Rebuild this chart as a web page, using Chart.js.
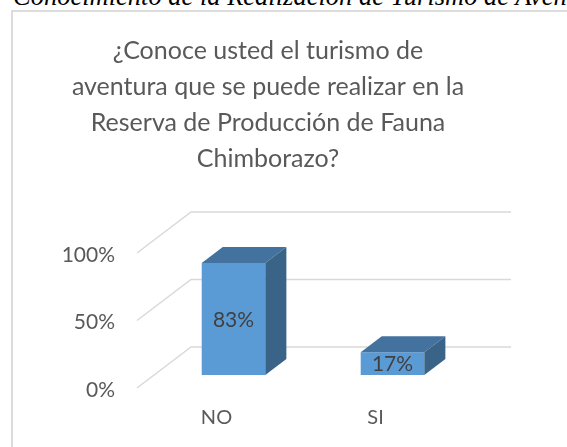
<!DOCTYPE html>
<html>
<head>
<meta charset="utf-8">
<script src="https://cdn.jsdelivr.net/npm/chart.js@4/dist/chart.umd.min.js"></script>
<style>
  html, body { margin:0; padding:0; background:#fff; overflow:hidden; }
  #wrap { position:relative; width:567px; height:447px; overflow:hidden; }
  #caption { position:absolute; left:13px; top:-19px; white-space:nowrap; font-family:"Liberation Serif","Times New Roman",serif; font-style:italic; font-size:26.5px; line-height:30px; color:#000; }
  #frame { position:absolute; left:11px; top:10px; width:700px; height:600px; border-left:2px solid #DCDCDC; border-top:2px solid #DCDCDC; }
  canvas { position:absolute; left:0; top:0; }
</style>
</head>
<body>
<div id="wrap">
  <div id="caption">Conocimiento de la Realización de Turismo de Aventura</div>
  <div id="frame"></div>
  <canvas id="c" width="567" height="447"></canvas>
</div>
<script>
const captionText = 'Conocimiento de la Realización de Turismo de Aventura';
const titleLines = ['¿Conoce usted el turismo de', 'aventura que se puede realizar en la', 'Reserva de Producción de Fauna', 'Chimborazo?'];
const categories = ['NO', 'SI'];
const values = [83, 17];
const tickValues = [0, 50, 100];

// 3D geometry constants (style only)
const DX = 54, DY = -41;   // full depth offset of floor / back wall
const F = 0.315;            // depth position of bar front face
const D = 0.39;             // bar depth fraction

const threeD = {
  id: 'threeD',
  beforeDatasetsDraw(chart) {
    const { ctx, chartArea, scales } = chart;
    const y = scales.y;
    ctx.save();
    ctx.strokeStyle = '#D9D9D9';
    ctx.lineWidth = 1.5;
    y.ticks.forEach(t => {
      const py = y.getPixelForValue(t.value);
      ctx.beginPath();
      ctx.moveTo(chartArea.left, py);
      ctx.lineTo(chartArea.left + DX, py + DY);
      ctx.lineTo(chartArea.right + DX + 2, py + DY);
      ctx.stroke();
    });
    ctx.restore();
    ctx.save();
    ctx.translate(DX * F, DY * F);
  },
  afterDatasetsDraw(chart) {
    const { ctx } = chart;
    const meta = chart.getDatasetMeta(0);
    const bx = DX * D, by = DY * D;
    meta.data.forEach((bar, i) => {
      const p = bar.getProps(['x', 'y', 'base', 'width'], true);
      const l = p.x - p.width / 2, r = p.x + p.width / 2;
      ctx.fillStyle = '#44729F';
      ctx.beginPath();
      ctx.moveTo(l, p.y);
      ctx.lineTo(l + bx, p.y + by);
      ctx.lineTo(r + bx, p.y + by);
      ctx.lineTo(r, p.y);
      ctx.closePath();
      ctx.fill();
      ctx.fillStyle = '#3A6388';
      ctx.beginPath();
      ctx.moveTo(r, p.y);
      ctx.lineTo(r + bx, p.y + by);
      ctx.lineTo(r + bx, p.base + by);
      ctx.lineTo(r, p.base);
      ctx.closePath();
      ctx.fill();
      ctx.fillStyle = '#404040';
      ctx.font = '21px Lato';
      ctx.textAlign = 'center';
      ctx.textBaseline = 'middle';
      ctx.fillText(values[i] + '%', p.x, (p.y + p.base) / 2 + 1);
    });
    ctx.restore();
  }
};

new Chart(document.getElementById('c'), {
  type: 'bar',
  data: {
    labels: categories,
    datasets: [{
      data: values,
      backgroundColor: '#5B9BD5',
      borderWidth: 0,
      barPercentage: 0.4,
      categoryPercentage: 1,
      clip: false
    }]
  },
  options: {
    responsive: false,
    animation: false,
    layout: { padding: { left: 0, right: 31, top: 0, bottom: 17 } },
    plugins: {
      legend: { display: false },
      tooltip: { enabled: false },
      title: {
        display: true,
        text: titleLines,
        color: '#595959',
        font: { family: 'Lato', size: 25, weight: 'normal', lineHeight: 36 / 25 },
        padding: { top: 33, bottom: 76 }
      }
    },
    scales: {
      x: {
        afterFit(s) { s.height = 42; },
        grid: { display: false, drawTicks: false },
        border: { display: false },
        ticks: { padding: 18, color: '#595959', font: { family: 'Lato', size: 20 } }
      },
      y: {
        min: 0, max: 100,
        afterFit(s) { s.width = 137; },
        afterBuildTicks(s) { s.ticks = tickValues.map(v => ({ value: v })); },
        grid: { display: false, drawTicks: false },
        border: { display: false },
        ticks: { padding: 22, labelOffset: 2, color: '#595959', font: { family: 'Lato', size: 21 }, callback: v => v + '%' }
      },
      yRight: {
        position: 'right',
        display: true,
        afterFit(s) { s.width = 81; },
        grid: { display: false, drawTicks: false },
        border: { display: false },
        ticks: { display: false }
      }
    }
  },
  plugins: [threeD]
});
</script>
</body>
</html>
